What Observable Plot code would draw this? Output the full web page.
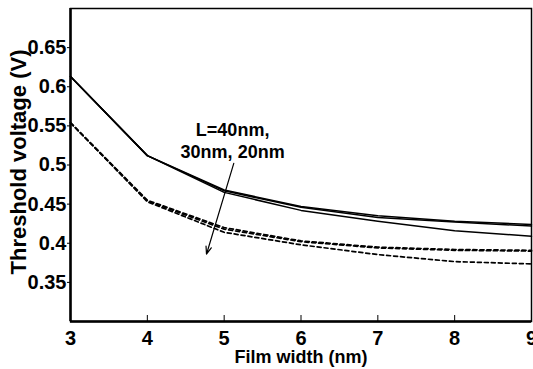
<!DOCTYPE html>
<html><head><meta charset="utf-8">
<script src="https://cdn.jsdelivr.net/npm/d3@7"></script>
<script src="https://cdn.jsdelivr.net/npm/@observablehq/plot@0.6"></script>
<style>body{margin:0;background:#fff} svg{display:block}</style>
</head><body><div id="chart"></div>
<script>
const filmWidth = [3, 4, 5, 6, 7, 8, 9];
// Solid lines (upper group): L = 40nm, 30nm, 20nm
const solidL40 = [0.613, 0.512, 0.468, 0.447, 0.435, 0.428, 0.424];
const solidL30 = [0.613, 0.512, 0.467, 0.446, 0.433, 0.427, 0.422];
const solidL20 = [0.613, 0.512, 0.465, 0.442, 0.428, 0.416, 0.409];
// Dashed lines (lower group): L = 40nm, 30nm, 20nm
const dashL40 = [0.554, 0.455, 0.420, 0.403, 0.395, 0.392, 0.391];
const dashL30 = [0.554, 0.454, 0.418, 0.402, 0.394, 0.391, 0.390];
const dashL20 = [0.554, 0.453, 0.414, 0.398, 0.3855, 0.3765, 0.3736];

const xTicks = [3, 4, 5, 6, 7, 8, 9];
const yTicks = [0.35, 0.4, 0.45, 0.5, 0.55, 0.6, 0.65];
const yTickLabels = ["0.35", "0.4", "0.45", "0.5", "0.55", "0.6", "0.65"];
const xTitle = "Film width (nm)";
const yTitle = "Threshold voltage (V)";
const noteText = ["L=40nm,\n30nm, 20nm"];
const noteX = [5.11];
const noteY = [0.532];
const arrowX = [5.125, 4.77];
const arrowY = [0.502, 0.386];

const FONT = "'Liberation Sans Narrow','Arial Narrow','Liberation Sans',Arial,sans-serif";

function series(ys, name) {
  return filmWidth.map((x, i) => ({x, y: ys[i], name}));
}
const solidData = [
  ...series(solidL40, "s40"), ...series(solidL30, "s30"), ...series(solidL20, "s20")
];
const dashData = [
  ...series(dashL40, "d40"), ...series(dashL30, "d30"), ...series(dashL20, "d20")
];

const chart = Plot.plot({
  width: 533,
  height: 369,
  marginLeft: 70,
  marginRight: 2,
  marginTop: 8,
  marginBottom: 48,
  style: {fontFamily: FONT, fontWeight: "bold", fontSize: "20px", color: "#000", background: "#fff"},
  x: {domain: [3, 9]},
  y: {domain: [0.3, 0.7]},
  marks: [
    Plot.frame({stroke: "#000", strokeWidth: 1.5}),
    Plot.axisY({ticks: yTicks, tickFormat: (d) => yTickLabels[yTicks.indexOf(d)], tickSize: 3, tickPadding: 1, label: null, stroke: "#000", strokeWidth: 1}),
    Plot.axisX({ticks: xTicks, tickSize: 0, tickPadding: 9, tickFormat: (d) => String(d), label: null}),
    Plot.axisX({ticks: xTicks.slice(1, -1), tickSize: -6, text: null, label: null, strokeWidth: 1}),
    Plot.ruleX([3], {stroke: "#000", strokeWidth: 2.5}),
    Plot.ruleY([0.3], {stroke: "#000", strokeWidth: 2.5}),
    Plot.line(solidData, {x: "x", y: "y", z: "name", stroke: "#000", strokeWidth: 1.5}),
    Plot.line(dashData, {x: "x", y: "y", z: "name", stroke: "#000", strokeWidth: 1.7, strokeDasharray: "4,3"}),
    Plot.arrow([{x1: arrowX[0], y1: arrowY[0], x2: arrowX[1], y2: arrowY[1]}], {x1: "x1", y1: "y1", x2: "x2", y2: "y2", stroke: "#000", strokeWidth: 1.2, headLength: 10, headAngle: 40}),
    Plot.text(noteText, {x: noteX, y: noteY, text: (d) => d, textAnchor: "middle", lineAnchor: "middle", lineHeight: 1.2, fontSize: 18, fontWeight: "bold"}),
    Plot.text([xTitle], {frameAnchor: "bottom", textAnchor: "middle", lineAnchor: "middle", dy: 36, text: (d) => d, fontSize: 18, fontWeight: "bold"}),
    Plot.text([yTitle], {frameAnchor: "left", textAnchor: "middle", lineAnchor: "middle", rotate: -90, dx: -52, dy: -3, text: (d) => d, fontSize: 22, fontWeight: "bold"})
  ]
});
document.getElementById("chart").appendChild(chart);
</script>
</body></html>
